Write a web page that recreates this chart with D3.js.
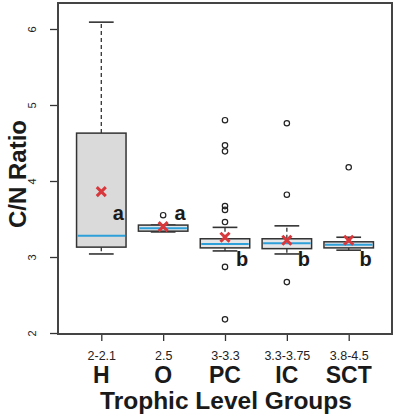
<!DOCTYPE html>
<html>
<head>
<meta charset="utf-8">
<script src="https://cdn.jsdelivr.net/npm/d3@7"></script>
<style>
  body { margin: 0; background: #fff; }
  text { font-family: "Liberation Sans", Arial, sans-serif; }
</style>
</head>
<body>
<div id="chart"></div>
<script>
// values
const groups = ['H', 'O', 'PC', 'IC', 'SCT'];
const ranges = ['2-2.1', '2.5', '3-3.3', '3.3-3.75', '3.8-4.5'];
const lowWhisker = [3.04, 3.33, 3.08, 3.04, 3.09];
const q1 = [3.13, 3.34, 3.12, 3.11, 3.12];
const medians = [3.28, 3.38, 3.17, 3.18, 3.16];
const q3 = [4.63, 3.42, 3.24, 3.24, 3.20];
const highWhisker = [6.09, 3.42, 3.39, 3.41, 3.26];
const means = [3.86, 3.40, 3.26, 3.22, 3.22];
const outliers = [
    [],
    [3.55],
    [4.80, 4.47, 4.39, 3.67, 3.62, 3.46, 2.87, 2.18],
    [4.76, 3.82, 2.67],
    [4.18]
];
const letters = ['a', 'a', 'b', 'b', 'b'];
const yTicks = [2, 3, 4, 5, 6];

const width = 396, height = 418;
const frame = {left: 58, right: 392, top: 3, bottom: 334};

const svg = d3.select('#chart')
    .append('svg')
    .attr('width', width)
    .attr('height', height);

const x = d3.scaleLinear()
    .domain([0.3, groups.length + 0.7])
    .range([frame.left, frame.right]);

const y = d3.scaleLinear()
    .domain([1.987, 6.342])
    .range([frame.bottom, frame.top]);

const boxW = x(0.8) - x(0);
const capW = boxW / 2;

const rows = groups.map((g, i) => ({
    i: i + 1, g, range: ranges[i], lo: lowWhisker[i], q1: q1[i], med: medians[i],
    q3: q3[i], hi: highWhisker[i], mean: means[i], out: outliers[i], letter: letters[i]
}));

// axes
svg.append('g')
    .attr('transform', `translate(${frame.left},0)`)
    .call(d3.axisLeft(y).tickValues(yTicks).tickFormat(d3.format('d')).tickSize(8).tickSizeOuter(0))
    .call(g => g.select('.domain').remove())
    .call(g => g.selectAll('line').attr('stroke', '#333').attr('stroke-width', 1.3))
    .call(g => g.selectAll('text')
        .attr('font-size', 11)
        .attr('fill', '#222')
        .attr('x', 0)
        .attr('y', 0)
        .attr('dy', '0.35em')
        .attr('transform', 'translate(-26,0) rotate(-90)')
        .attr('text-anchor', 'middle'));

svg.append('g')
    .attr('transform', `translate(0,${frame.bottom})`)
    .call(d3.axisBottom(x).tickValues(d3.range(1, groups.length + 1)).tickSize(7).tickSizeOuter(0).tickFormat(d => ranges[d - 1]))
    .call(g => g.select('.domain').remove())
    .call(g => g.selectAll('line').attr('stroke', '#333').attr('stroke-width', 1.3))
    .call(g => g.selectAll('text')
        .attr('font-size', 12.5)
        .attr('fill', '#222')
        .attr('y', 17));

// group names under the ranges
svg.append('g')
    .selectAll('text')
    .data(rows)
    .join('text')
    .attr('x', d => x(d.i))
    .attr('y', 383)
    .attr('text-anchor', 'middle')
    .attr('font-size', 23)
    .attr('font-weight', 'bold')
    .attr('fill', '#1a1a1a')
    .text(d => d.g);

svg.append('text')
    .attr('x', (frame.left + frame.right) / 2 + 1)
    .attr('y', 409)
    .attr('text-anchor', 'middle')
    .attr('font-size', 24.5)
    .attr('font-weight', 'bold')
    .attr('fill', '#1a1a1a')
    .text('Trophic Level Groups');

svg.append('text')
    .attr('transform', 'translate(26,174) rotate(-90)')
    .attr('text-anchor', 'middle')
    .attr('font-size', 24)
    .attr('font-weight', 'bold')
    .attr('fill', '#1a1a1a')
    .text('C/N Ratio');

// boxes
const box = svg.append('g')
    .selectAll('g')
    .data(rows)
    .join('g');

box.append('line')
    .attr('x1', d => x(d.i)).attr('x2', d => x(d.i))
    .attr('y1', d => y(d.q3)).attr('y2', d => y(d.hi))
    .attr('stroke', '#333').attr('stroke-width', 1.3).attr('stroke-dasharray', '4,3');
box.append('line')
    .attr('x1', d => x(d.i)).attr('x2', d => x(d.i))
    .attr('y1', d => y(d.q1)).attr('y2', d => y(d.lo))
    .attr('stroke', '#333').attr('stroke-width', 1.3).attr('stroke-dasharray', '4,3');
box.selectAll('.cap')
    .data(d => [d.lo, d.hi].map(v => ({i: d.i, v})))
    .join('line')
    .attr('class', 'cap')
    .attr('x1', d => x(d.i) - capW / 2).attr('x2', d => x(d.i) + capW / 2)
    .attr('y1', d => y(d.v)).attr('y2', d => y(d.v))
    .attr('stroke', '#333').attr('stroke-width', 1.6);

box.append('rect')
    .attr('x', d => x(d.i) - boxW / 2)
    .attr('width', boxW)
    .attr('y', d => y(d.q3))
    .attr('height', d => y(d.q1) - y(d.q3))
    .attr('fill', d => d.i === 1 ? '#dadada' : '#e4e6e8')
    .attr('stroke', '#333')
    .attr('stroke-width', 1.5);

box.append('line')
    .attr('x1', d => x(d.i) - boxW / 2 + 1).attr('x2', d => x(d.i) + boxW / 2 - 1)
    .attr('y1', d => y(d.med)).attr('y2', d => y(d.med))
    .attr('stroke', '#2d9fd9').attr('stroke-width', 2);

box.selectAll('circle')
    .data(d => d.out.map(v => ({i: d.i, v})))
    .join('circle')
    .attr('cx', d => x(d.i))
    .attr('cy', d => y(d.v))
    .attr('r', 2.7)
    .attr('fill', 'none')
    .attr('stroke', '#222')
    .attr('stroke-width', 1.2);

box.append('path')
    .attr('transform', d => `translate(${x(d.i)},${y(d.mean)})`)
    .attr('d', d3.symbol(d3.symbolX, 55))
    .attr('fill', 'none')
    .attr('stroke', '#d8383b')
    .attr('stroke-width', 3);

box.append('text')
    .attr('x', d => x(d.i) + 17)
    .attr('y', d => d.letter === 'a' ? y(3.49) : y(2.88))
    .attr('text-anchor', 'middle')
    .attr('font-size', 20)
    .attr('font-weight', 'bold')
    .attr('fill', '#1a1a1a')
    .text(d => d.letter);

// frame
svg.append('rect')
    .attr('x', frame.left)
    .attr('y', frame.top)
    .attr('width', frame.right - frame.left)
    .attr('height', frame.bottom - frame.top)
    .attr('fill', 'none')
    .attr('stroke', '#444')
    .attr('stroke-width', 2);
</script>
</body>
</html>
